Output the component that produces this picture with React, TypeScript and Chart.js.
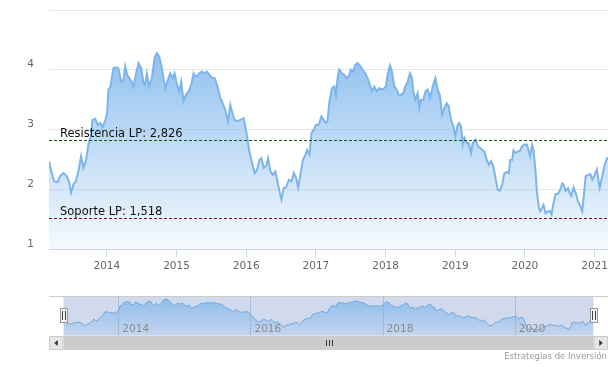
import React, { useEffect, useRef } from 'react';
import { Chart, registerables } from 'chart.js';

Chart.register(...registerables);

// ---- data (decimal years, price) ----
const dates = [
  2013.170, 2013.209, 2013.247, 2013.295, 2013.329, 2013.377, 2013.424, 2013.458, 2013.487, 2013.520,
  2013.554, 2013.592, 2013.630, 2013.664, 2013.698, 2013.736, 2013.774, 2013.793, 2013.832, 2013.870,
  2013.904, 2013.937, 2013.975, 2014.004, 2014.023, 2014.052, 2014.095, 2014.129, 2014.167, 2014.205,
  2014.239, 2014.263, 2014.292, 2014.320, 2014.359, 2014.383, 2014.416, 2014.455, 2014.493, 2014.526,
  2014.550, 2014.574, 2014.608, 2014.646, 2014.685, 2014.718, 2014.752, 2014.790, 2014.814, 2014.838,
  2014.876, 2014.910, 2014.943, 2014.972, 2015.006, 2015.039, 2015.068, 2015.101, 2015.135, 2015.173,
  2015.212, 2015.245, 2015.269, 2015.293, 2015.327, 2015.365, 2015.403, 2015.437, 2015.470, 2015.509,
  2015.547, 2015.581, 2015.605, 2015.628, 2015.662, 2015.700, 2015.739, 2015.772, 2015.796, 2015.834,
  2015.868, 2015.916, 2015.964, 2015.988, 2016.012, 2016.045, 2016.084, 2016.122, 2016.156, 2016.189,
  2016.218, 2016.251, 2016.285, 2016.314, 2016.347, 2016.381, 2016.419, 2016.457, 2016.477, 2016.505,
  2016.539, 2016.572, 2016.611, 2016.649, 2016.683, 2016.716, 2016.745, 2016.778, 2016.812, 2016.850,
  2016.874, 2016.908, 2016.936, 2016.970, 2017.004, 2017.042, 2017.080, 2017.114,
  2017.143, 2017.167, 2017.191, 2017.229, 2017.263, 2017.287, 2017.311, 2017.335, 2017.373, 2017.406,
  2017.440, 2017.469, 2017.502, 2017.536, 2017.565, 2017.598, 2017.632, 2017.670, 2017.708, 2017.742,
  2017.775, 2017.804, 2017.838, 2017.871, 2017.910, 2017.948, 2017.981, 2018.005, 2018.029, 2018.063,
  2018.092, 2018.125, 2018.159, 2018.187, 2018.221, 2018.255, 2018.283, 2018.317, 2018.350, 2018.379,
  2018.398, 2018.427, 2018.461, 2018.484, 2018.508, 2018.542, 2018.571, 2018.604, 2018.638, 2018.676,
  2018.714, 2018.748, 2018.782, 2018.810, 2018.844, 2018.877, 2018.906, 2018.940, 2018.973, 2019.002,
  2019.035, 2019.059, 2019.083, 2019.107, 2019.131, 2019.165, 2019.194, 2019.227, 2019.251, 2019.289,
  2019.323, 2019.357, 2019.385, 2019.419, 2019.452, 2019.481, 2019.515, 2019.548, 2019.577, 2019.610,
  2019.644, 2019.673, 2019.706, 2019.740, 2019.769, 2019.788, 2019.816, 2019.836, 2019.864, 2019.898,
  2019.931, 2019.960, 2019.994, 2020.027, 2020.056, 2020.075, 2020.104, 2020.123, 2020.152, 2020.171,
  2020.200, 2020.219, 2020.248, 2020.267, 2020.296, 2020.329, 2020.363, 2020.382, 2020.411, 2020.439,
  2020.473, 2020.506, 2020.535, 2020.554, 2020.583, 2020.617, 2020.641, 2020.665, 2020.698, 2020.727,
  2020.760, 2020.794, 2020.823, 2020.842, 2020.871, 2020.904, 2020.938, 2020.966, 2021.000, 2021.033,
  2021.072, 2021.110, 2021.144, 2021.177, 2021.192,
];

const values = [
  2.47, 2.27, 2.13, 2.12, 2.22, 2.27, 2.22, 2.13, 1.94, 2.08,
  2.13, 2.30, 2.55, 2.36, 2.47, 2.75, 2.91, 3.16, 3.18, 3.08,
  3.11, 3.04, 3.14, 3.28, 3.67, 3.72, 4.03, 4.04, 4.02, 3.80,
  3.83, 4.06, 3.92, 3.86, 3.80, 3.72, 3.92, 4.11, 4.03, 3.78,
  3.75, 3.94, 3.72, 3.86, 4.20, 4.28, 4.22, 4.03, 3.86, 3.69,
  3.83, 3.94, 3.86, 3.94, 3.75, 3.64, 3.80, 3.47, 3.58, 3.64,
  3.75, 3.94, 3.89, 3.89, 3.94, 3.97, 3.94, 3.97, 3.92, 3.86,
  3.86, 3.75, 3.64, 3.53, 3.44, 3.33, 3.14, 3.41, 3.30, 3.16,
  3.14, 3.16, 3.19, 3.05, 2.89, 2.63, 2.44, 2.27, 2.33, 2.49,
  2.52, 2.36, 2.39, 2.52, 2.30, 2.24, 2.30, 2.08, 1.97, 1.83,
  2.02, 2.03, 2.16, 2.13, 2.27, 2.19, 2.03, 2.24, 2.49, 2.58,
  2.66, 2.58, 2.94, 3.00, 3.08, 3.08, 3.22, 3.16,
  3.11, 3.14, 3.44, 3.69, 3.72, 3.58, 3.86, 4.00, 3.94, 3.92,
  3.86, 3.89, 4.00, 3.97, 4.08, 4.11, 4.07, 4.00, 3.94, 3.86,
  3.75, 3.64, 3.72, 3.64, 3.69, 3.67, 3.69, 3.72, 3.92, 4.07,
  3.97, 3.72, 3.67, 3.58, 3.58, 3.61, 3.72, 3.80, 3.94, 3.86,
  3.64, 3.50, 3.61, 3.36, 3.50, 3.50, 3.64, 3.67, 3.53, 3.72,
  3.86, 3.67, 3.56, 3.25, 3.36, 3.44, 3.39, 3.16, 3.05, 2.89,
  3.08, 3.11, 3.05, 2.75, 2.86, 2.77, 2.77, 2.61, 2.77, 2.83,
  2.72, 2.69, 2.66, 2.63, 2.49, 2.41, 2.47, 2.38, 2.19, 1.99,
  1.98, 2.08, 2.27, 2.29, 2.27, 2.49, 2.49, 2.65, 2.61, 2.63,
  2.65, 2.72, 2.75, 2.75, 2.63, 2.55, 2.75, 2.66, 2.30, 1.97,
  1.69, 1.63, 1.69, 1.74, 1.60, 1.63, 1.63, 1.58, 1.77, 1.92,
  1.92, 1.99, 2.10, 2.08, 1.97, 2.02, 1.94, 1.89, 2.03, 1.94,
  1.80, 1.72, 1.63, 1.86, 2.22, 2.24, 2.25, 2.16, 2.24, 2.33,
  2.02, 2.22, 2.41, 2.52, 2.52,
];

const yTickValues = [1, 2, 3, 4, 5];
const xTickYears = [2014, 2015, 2016, 2017, 2018, 2019, 2020, 2021];
const navTickYears = [2014, 2016, 2018, 2020];
const resistance = 2.826;
const support = 1.518;
const resistanceLabel = 'Resistencia LP: 2,826';
const supportLabel = 'Soporte LP: 1,518';
const creditsText = 'Estrategias de Inversión';

const FONT = '"DejaVu Sans", Verdana, sans-serif';
const W = 608;
const MAIN_H = 290;
const NAV_H = 77;

export default function App() {
  const mainRef = useRef<HTMLCanvasElement>(null);
  const navRef = useRef<HTMLCanvasElement>(null);

  useEffect(() => {
    const points = dates.map((d, i) => ({ x: d, y: values[i] }));

    const gradientFill = (topA: number, botA: number) => (c: any) => {
      const chart = c.chart;
      const a = chart.chartArea;
      if (!a) return `rgba(124,181,236,${topA})`;
      const g = chart.ctx.createLinearGradient(0, a.top, 0, a.bottom);
      g.addColorStop(0, `rgba(124,181,236,${topA})`);
      g.addColorStop(1, `rgba(124,181,236,${botA})`);
      return g;
    };

    const plotLinesPlugin = {
      id: 'plotLines',
      afterDatasetsDraw(chart: any) {
        const { ctx, chartArea: a, scales } = chart;
        const y = scales.y;
        const items = [
          { v: resistance, color: '#0e5c0e', label: resistanceLabel },
          { v: support, color: '#7a0c0c', label: supportLabel },
        ];
        ctx.save();
        items.forEach((it) => {
          const py = Math.round(y.getPixelForValue(it.v)) + 0.5;
          ctx.strokeStyle = it.color;
          ctx.lineWidth = 1;
          ctx.setLineDash([3, 2]);
          ctx.beginPath();
          ctx.moveTo(a.left, py);
          ctx.lineTo(a.right, py);
          ctx.stroke();
          ctx.setLineDash([]);
          ctx.fillStyle = '#111';
          ctx.font = `11.5px ${FONT}`;
          ctx.textAlign = 'left';
          ctx.textBaseline = 'alphabetic';
          ctx.fillText(it.label, a.left + 11, py - 4);
        });
        ctx.restore();
      },
    };

    const main = new Chart(mainRef.current!, {
      type: 'line',
      data: {
        datasets: [
          {
            data: points,
            borderColor: '#7cb5ec',
            borderWidth: 2,
            pointRadius: 0,
            tension: 0,
            fill: 'start',
            backgroundColor: gradientFill(1, 0.08),
          },
        ],
      },
      options: {
        animation: false,
        responsive: false,
        devicePixelRatio: 1,
        layout: { padding: { top: 10, left: 0, right: 0, bottom: 0 } },
        plugins: { legend: { display: false }, tooltip: { enabled: false } },
        scales: {
          x: {
            type: 'linear',
            min: dates[0],
            max: dates[dates.length - 1],
            afterBuildTicks: (s: any) => {
              s.ticks = xTickYears.map((v) => ({ value: v }));
            },
            afterFit: (s: any) => {
              s.height = 41;
              s.paddingLeft = 0;
              s.paddingRight = 0;
            },
            grid: { drawOnChartArea: false, drawTicks: true, tickLength: 8, color: '#ccd6eb' },
            border: { display: true, color: '#ccd6eb' },
            ticks: {
              padding: 3,
              color: '#666',
              font: { family: FONT, size: 10.5 },
              maxRotation: 0,
              autoSkip: false,
              callback: (v: any) => String(v),
            },
          },
          y: {
            type: 'linear',
            min: 1,
            max: 5,
            afterBuildTicks: (s: any) => {
              s.ticks = yTickValues.map((v) => ({ value: v }));
            },
            afterFit: (s: any) => {
              s.width = 49;
              s.paddingTop = 0;
              s.paddingBottom = 0;
            },
            grid: { color: '#e6e6e6', drawTicks: false },
            border: { display: false },
            ticks: {
              padding: 15,
              labelOffset: -5,
              color: '#666',
              font: { family: FONT, size: 10.5 },
              callback: (v: any) => (v === 5 ? '' : String(v)),
            },
          },
        },
      },
      plugins: [plotLinesPlugin],
    } as any);

    const navPlugin = {
      id: 'navigatorDecor',
      beforeDatasetsDraw(chart: any) {
        const { ctx, chartArea: a, scales } = chart;
        const x = scales.x;
        ctx.save();
        ctx.fillStyle = 'rgba(102,133,194,0.3)';
        ctx.fillRect(a.left, a.top, a.right - a.left, a.bottom - a.top);
        ctx.strokeStyle = 'rgba(140,150,170,0.45)';
        ctx.lineWidth = 1;
        navTickYears.forEach((yr) => {
          const px = Math.round(x.getPixelForValue(yr)) + 0.5;
          ctx.beginPath();
          ctx.moveTo(px, a.top);
          ctx.lineTo(px, a.bottom);
          ctx.stroke();
        });
        ctx.restore();
      },
      afterDatasetsDraw(chart: any) {
        const { ctx, chartArea: a, scales } = chart;
        const x = scales.x;
        ctx.save();
        ctx.fillStyle = '#8a8a8a';
        ctx.font = `10.5px ${FONT}`;
        ctx.textAlign = 'left';
        ctx.textBaseline = 'alphabetic';
        navTickYears.forEach((yr) => {
          const px = x.getPixelForValue(yr);
          ctx.fillText(String(yr), px + 4, a.bottom - 4);
        });
        ctx.strokeStyle = '#cccccc';
        ctx.lineWidth = 1;
        ctx.beginPath();
        ctx.moveTo(49, Math.round(a.top) + 0.5);
        ctx.lineTo(W, Math.round(a.top) + 0.5);
        ctx.stroke();
        [a.left, a.right].forEach((edge: number) => {
          const cx = Math.round(edge);
          ctx.fillStyle = '#f2f2f2';
          ctx.strokeStyle = '#999999';
          ctx.fillRect(cx - 4, a.top + 12, 8, 15);
          ctx.strokeRect(cx - 3.5, a.top + 12.5, 7, 14);
          ctx.strokeStyle = '#444';
          ctx.beginPath();
          ctx.moveTo(cx - 1.5, a.top + 15);
          ctx.lineTo(cx - 1.5, a.top + 24);
          ctx.moveTo(cx + 1.5, a.top + 15);
          ctx.lineTo(cx + 1.5, a.top + 24);
          ctx.stroke();
        });
        const sTop = Math.round(a.bottom);
        const sH = 14;
        ctx.fillStyle = '#cccccc';
        ctx.fillRect(a.left, sTop, a.right - a.left, sH);
        const btns = [
          { x0: 49, x1: a.left, dir: -1 },
          { x0: a.right, x1: W, dir: 1 },
        ];
        btns.forEach((b) => {
          ctx.fillStyle = '#e6e6e6';
          ctx.fillRect(b.x0, sTop, b.x1 - b.x0, sH);
          ctx.strokeStyle = '#cccccc';
          ctx.strokeRect(b.x0 + 0.5, sTop + 0.5, b.x1 - b.x0 - 1, sH - 1);
          const cx = (b.x0 + b.x1) / 2;
          const cy = sTop + sH / 2;
          ctx.fillStyle = '#333';
          ctx.beginPath();
          ctx.moveTo(cx + b.dir * 2, cy);
          ctx.lineTo(cx - b.dir * 1.5, cy - 3);
          ctx.lineTo(cx - b.dir * 1.5, cy + 3);
          ctx.closePath();
          ctx.fill();
        });
        const gx = Math.round((a.left + a.right) / 2);
        ctx.strokeStyle = '#333';
        ctx.beginPath();
        [-3, 0, 3].forEach((d) => {
          ctx.moveTo(gx + d + 0.5, sTop + 4);
          ctx.lineTo(gx + d + 0.5, sTop + 10);
        });
        ctx.stroke();
        ctx.fillStyle = '#999';
        ctx.font = `8.5px ${FONT}`;
        ctx.textAlign = 'right';
        ctx.fillText(creditsText, 607, 69);
        ctx.restore();
      },
    };

    const nav = new Chart(navRef.current!, {
      type: 'line',
      data: {
        datasets: [
          {
            data: points,
            borderColor: '#6ea6de',
            borderWidth: 1,
            pointRadius: 0,
            tension: 0,
            fill: 'start',
            backgroundColor: gradientFill(0.8, 0.15),
          },
        ],
      },
      options: {
        animation: false,
        responsive: false,
        devicePixelRatio: 1,
        layout: { padding: { left: 63.5, right: 14.5, top: 6, bottom: 31.3 } },
        plugins: { legend: { display: false }, tooltip: { enabled: false } },
        scales: {
          x: { type: 'linear', display: false, min: dates[0], max: dates[dates.length - 1] },
          y: { type: 'linear', display: false, min: 1.1, max: 4.55 },
        },
      },
      plugins: [navPlugin],
    } as any);

    return () => {
      main.destroy();
      nav.destroy();
    };
  }, []);

  return (
    <div style={{ position: 'absolute', left: 0, top: 0, width: W, height: MAIN_H + NAV_H, background: '#fff' }}>
      <canvas ref={mainRef} width={W} height={MAIN_H} style={{ position: 'absolute', left: 0, top: 0, display: 'block' }} />
      <canvas ref={navRef} width={W} height={NAV_H} style={{ position: 'absolute', left: 0, top: MAIN_H, display: 'block' }} />
    </div>
  );
}
